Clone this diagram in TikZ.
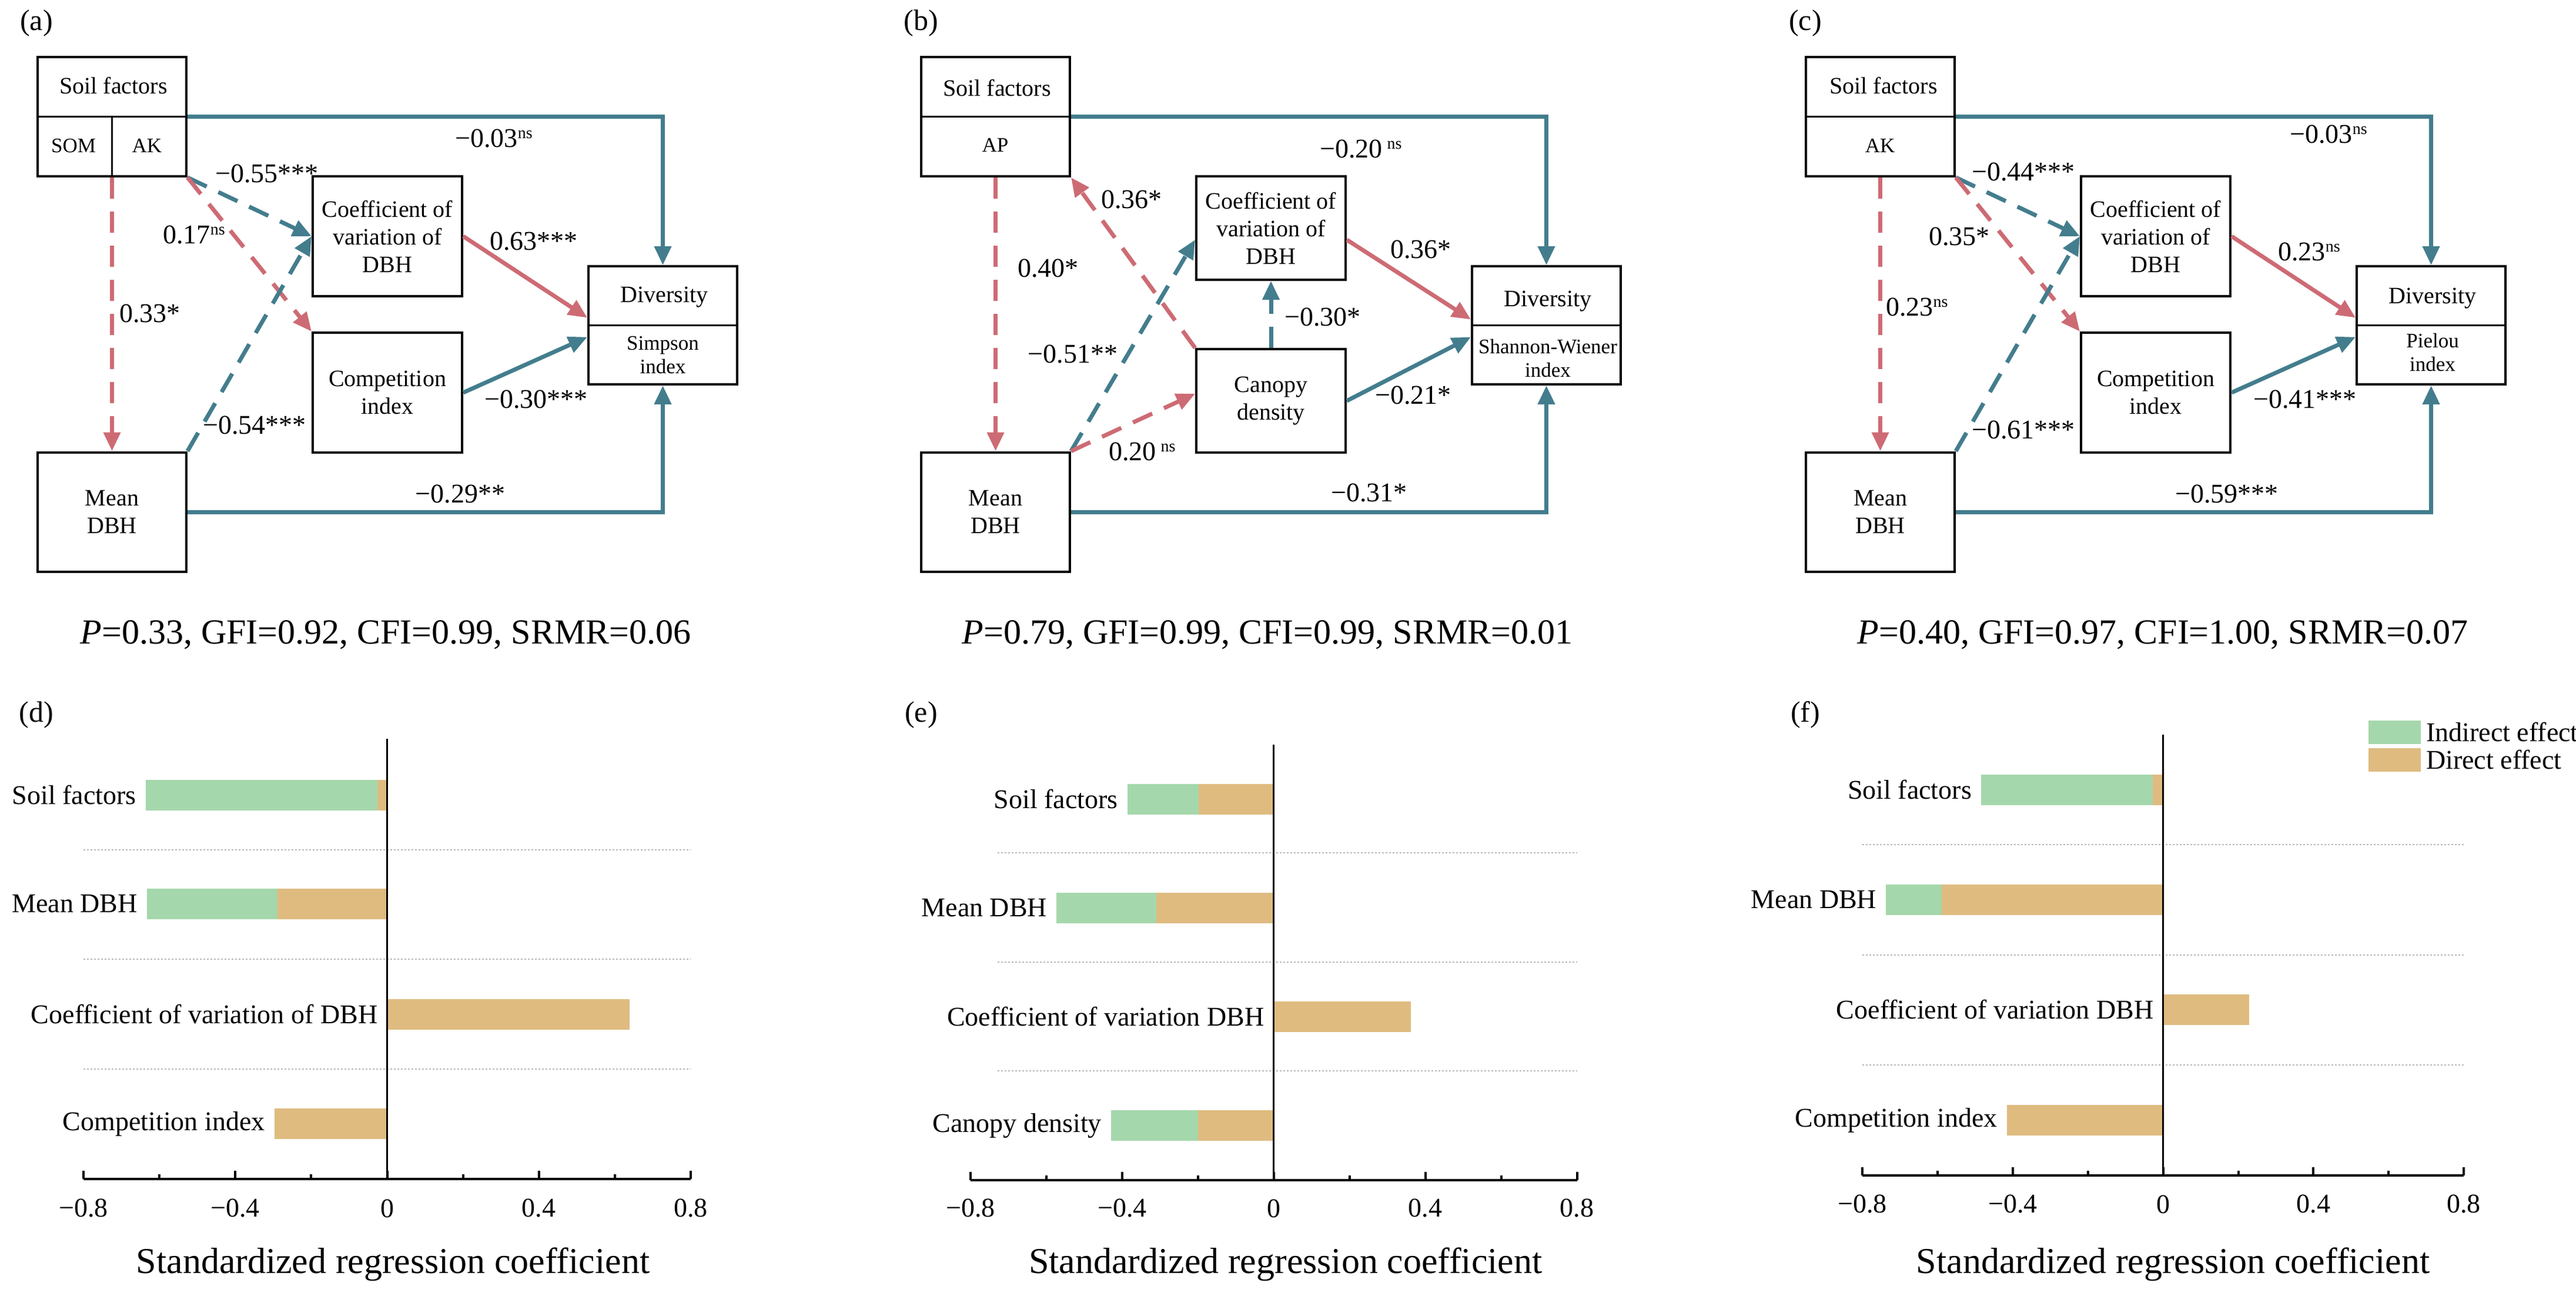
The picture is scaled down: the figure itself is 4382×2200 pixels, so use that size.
\documentclass[tikz,border=0pt]{standalone}
\usepackage{fontspec}
\setmainfont{Liberation Serif}
\usetikzlibrary{arrows.meta,calc}
\definecolor{cred}{HTML}{CD6B74}
\definecolor{cteal}{HTML}{437D8D}
\definecolor{cgreen}{HTML}{A5D7AC}
\definecolor{ctan}{HTML}{DFBB80}
\newcommand\NSx{\raisebox{15pt}{\fontsize{28}{28}\selectfont ns}}
\newcommand\effbar[6]{% name, yc, g, t, e, label
  \fill[cgreen] ({#3*\s},{#2-26}) rectangle ({#4*\s},{#2+26});
  \fill[ctan] ({#4*\s},{#2-26}) rectangle ({#5*\s},{#2+26});
  \node[labl,anchor=east] (#1) at ({min(#3,#4,0)*\s-16},#2) {#6};}
\tikzset{
 box/.style={draw,line width=4pt,minimum width=253pt,minimum height=203pt,inner sep=0pt,
   font=\fontsize{40}{47}\selectfont,align=center},
 btxt/.style={font=\fontsize{40}{47}\selectfont,align=center,inner sep=0},
 stxt/.style={font=\fontsize{35}{40}\selectfont,align=center,inner sep=0},
 coef/.style={font=\fontsize{46}{50}\selectfont,inner sep=0},
 arw/.style={line width=7pt,-{Triangle[length=32pt,width=28pt]}},
 posar/.style={arw,draw=cred}, negar/.style={arw,draw=cteal},
 dsh/.style={dash pattern=on 36pt off 22pt},
 divl/.style={line width=3.5pt},
 plab/.style={font=\fontsize{50}{50}\selectfont,inner sep=0},
 fitt/.style={font=\fontsize{60}{60}\selectfont,inner sep=0},
 labl/.style={font=\fontsize{46}{50}\selectfont,inner sep=0},
 tickl/.style={font=\fontsize{46}{50}\selectfont,inner sep=0},
 xl/.style={font=\fontsize{62}{62}\selectfont,inner sep=0},
 gridl/.style={draw=gray!55,line width=1.5pt,dash pattern=on 3pt off 3pt},
 axl/.style={line width=4pt},
}
\begin{document}
\begin{tikzpicture}[x=1pt,y=-1pt]
\useasboundingbox (0,0) rectangle (4382,2200);
\fill[white] (0,0) rectangle (4382,2200);

% ================= (a)
\begin{scope}
\node[plab] (la) at (62,39) {(a)};
\node[box] (sa) at (190.5,198.5) {};
\draw[divl] (sa.west) -- (sa.east);
\draw[divl] (sa.center) -- (sa.south);
\node[btxt] (sat) at (193,146) {Soil factors};
\node[stxt] (sa1) at (125,248) {SOM};
\node[stxt] (sa2) at (250,248) {AK};
\node[box] (ma) at (190.5,871) {Mean\\DBH};
\node[box,minimum width=254pt,minimum height=204pt] (cva) at (659,402) {Coefficient of\\variation of\\DBH};
\node[box,minimum width=254pt,minimum height=204pt] (coa) at (659,668) {Competition\\index};
\node[box,minimum height=201pt] (da) at (1127.5,553.5) {};
\draw[divl] (da.west) -- (da.east);
\node[btxt] (dat) at (1130,506) {Diversity};
\node[stxt] (das) at (1127.5,604) {Simpson\\index};
\draw[negar] (sa.east) -| (da.north);
\draw[negar] (ma.east) -| (da.south);
\draw[negar,dsh] (sa.south east) -- (cva.west);
\draw[posar,dsh] (sa.south east) -- (coa.north west);
\draw[posar,dsh] (sa.south) -- (ma.north);
\draw[negar,dsh] (ma.north east) -- (cva.west);
\draw[posar] (cva.east) -- ([yshift=13pt]da.west);
\draw[negar] (coa.east) -- ([yshift=-20pt]da.west);
\node[coef] (ca1) at (454,296) {−0.55***};
\node[coef] (ca2) at (330,400) {0.17\NSx};
\node[coef,anchor=west] (ca3) at (203,534) {0.33*};
\node[coef] (ca4) at (433,724) {−0.54***};
\node[coef] (ca5) at (908,411) {0.63***};
\node[coef] (ca6) at (912,680) {−0.30***};
\node[coef] (ca7) at (840,236) {−0.03\NSx};
\node[coef] (ca8) at (783,841) {−0.29**};
\node[fitt] (fa) at (656,1080) {\textit{P}=0.33, GFI=0.92, CFI=0.99, SRMR=0.06};
\end{scope}

% ================= (b)
\begin{scope}[xshift=1503pt]
\node[plab] (lb) at (64,39) {(b)};
\node[box] (sb) at (190.5,198.5) {};
\draw[divl] (sb.west) -- (sb.east);
\node[btxt] (sbt) at (193,150) {Soil factors};
\node[stxt] (sb1) at (190,247) {AP};
\node[box] (mb) at (190.5,871) {Mean\\DBH};
\node[box,minimum width=254pt,minimum height=176pt] (cvb) at (659,388) {Coefficient of\\variation of\\DBH};
\node[box,minimum width=254pt,minimum height=176pt] (cnb) at (659,682) {Canopy\\density};
\node[box,minimum height=201pt] (db) at (1127.5,553.5) {};
\draw[divl] (db.west) -- (db.east);
\node[btxt] (dbt) at (1130,513) {Diversity};
\node[stxt] (dbs) at (1130,610) {Shannon-Wiener\\index};
\draw[negar] (sb.east) -| (db.north);
\draw[negar] (mb.east) -| (db.south);
\draw[posar,dsh] (sb.south) -- (mb.north);
\draw[posar,dsh] (cnb.north west) -- (sb.south east);
\draw[negar,dsh] (mb.north east) -- ([yshift=-20pt]cvb.west);
\draw[posar,dsh] (mb.north east) -- ([yshift=12pt]cnb.west);
\draw[negar,dsh] (cnb.north) -- (cvb.south);
\draw[posar] ([yshift=-20pt]cvb.east) -- ([yshift=10pt]db.west);
\draw[negar] (cnb.east) -- ([yshift=-20pt]db.west);
\node[coef] (cb1) at (422,340) {0.36*};
\node[coef] (cb2) at (322,603) {−0.51**};
\node[coef] (cb3) at (440,769) {0.20\,\NSx};
\node[coef] (cb4) at (280,457) {0.40*};
\node[coef] (cb5) at (914,425) {0.36*};
\node[coef] (cb6) at (901,673) {−0.21*};
\node[coef] (cb7) at (747,540) {−0.30*};
\node[coef] (cb8) at (812,254) {−0.20\,\NSx};
\node[coef] (cb9) at (826,839) {−0.31*};
\node[fitt] (fb) at (653,1080) {\textit{P}=0.79, GFI=0.99, CFI=0.99, SRMR=0.01};
\end{scope}

% ================= (c)
\begin{scope}[xshift=3008pt]
\node[plab] (lc) at (63,39) {(c)};
\node[box] (sc) at (190.5,198.5) {};
\draw[divl] (sc.west) -- (sc.east);
\node[btxt] (sct) at (196,146) {Soil factors};
\node[stxt] (sc1) at (190,248) {AK};
\node[box] (mc) at (190.5,871) {Mean\\DBH};
\node[box,minimum width=254pt,minimum height=204pt] (cvc) at (659,402) {Coefficient of\\variation of\\DBH};
\node[box,minimum width=254pt,minimum height=204pt] (coc) at (659,668) {Competition\\index};
\node[box,minimum height=201pt] (dc) at (1127.5,553.5) {};
\draw[divl] (dc.west) -- (dc.east);
\node[btxt] (dct) at (1130,508) {Diversity};
\node[stxt] (dcs) at (1130,600) {Pielou\\index};
\draw[negar] (sc.east) -| (dc.north);
\draw[negar] (mc.east) -| (dc.south);
\draw[negar,dsh] (sc.south east) -- (cvc.west);
\draw[posar,dsh] (sc.south east) -- (coc.north west);
\draw[posar,dsh] (sc.south) -- (mc.north);
\draw[negar,dsh] (mc.north east) -- (cvc.west);
\draw[posar] (cvc.east) -- ([yshift=13pt]dc.west);
\draw[negar] (coc.east) -- ([yshift=-20pt]dc.west);
\node[coef] (cc1) at (434,293) {−0.44***};
\node[coef] (cc2) at (325,403) {0.35*};
\node[coef,anchor=west] (cc3) at (200,523) {0.23\NSx};
\node[coef] (cc4) at (434,732) {−0.61***};
\node[coef] (cc5) at (920,429) {0.23\NSx};
\node[coef] (cc6) at (913,680) {−0.41***};
\node[coef] (cc7) at (953,229) {−0.03\NSx};
\node[coef] (cc8) at (780,841) {−0.59***};
\node[fitt] (fc) at (671,1080) {\textit{P}=0.40, GFI=0.97, CFI=1.00, SRMR=0.07};
\end{scope}

% ================= (d)
\node[plab] (ld) at (62,1216) {(d)};
\begin{scope}[shift={(658.5,0)}]
\def\s{645.6}
\foreach \g in {1446,1632,1819} \draw[gridl] ({-0.8*\s},\g) -- ({0.8*\s},\g);
\effbar{d1}{1353}{-0.636}{-0.026}{0}{Soil factors}
\effbar{d2}{1538}{-0.633}{-0.289}{0}{Mean DBH}
\effbar{d3}{1726}{0}{0}{0.639}{Coefficient of variation of DBH}
\effbar{d4}{1912}{0}{-0.297}{0}{Competition index}
\draw[line width=3pt] (0,1257) -- (0,2006);
\draw[axl] ({-0.8*\s},2006) -- ({0.8*\s},2006);
\foreach \t/\l in {-0.8/−0.8,-0.4/−0.4,0/0,0.4/0.4,0.8/0.8} {\draw[axl] ({\t*\s},2006) -- ({\t*\s},1992); \node[tickl] at ({\t*\s},2056) {\l};}
\foreach \t in {-0.6,-0.2,0.2,0.6} \draw[axl] ({\t*\s},2006) -- ({\t*\s},1998);
\node[xl] (xd) at (10,2151) {Standardized regression coefficient};
\end{scope}

% ================= (e)
\node[plab] (le) at (1567,1216) {(e)};
\begin{scope}[shift={(2166.7,0)}]
\def\s{644.8}
\foreach \g in {1451,1637,1822} \draw[gridl] ({-0.728*\s},\g) -- ({0.8*\s},\g);
\effbar{e1}{1360}{-0.386}{-0.198}{0}{Soil factors}
\effbar{e2}{1545}{-0.573}{-0.309}{0}{Mean DBH}
\effbar{e3}{1730}{0}{0}{0.362}{Coefficient of variation DBH}
\effbar{e4}{1915}{-0.429}{-0.2}{0}{Canopy density}
\draw[line width=3pt] (0,1267) -- (0,2008);
\draw[axl] ({-0.8*\s},2008) -- ({0.8*\s},2008);
\foreach \t/\l in {-0.8/−0.8,-0.4/−0.4,0/0,0.4/0.4,0.8/0.8} {\draw[axl] ({\t*\s},2008) -- ({\t*\s},1994); \node[tickl] at ({\t*\s},2056) {\l};}
\foreach \t in {-0.6,-0.2,0.2,0.6} \draw[axl] ({\t*\s},2008) -- ({\t*\s},2000);
\node[xl] (xe) at (20,2151) {Standardized regression coefficient};
\end{scope}

% ================= (f)
\node[plab] (lf) at (3071,1216) {(f)};
\begin{scope}[shift={(3679.6,0)}]
\def\s{639.4}
\foreach \g in {1437,1625,1812} \draw[gridl] ({-0.8*\s},\g) -- ({0.8*\s},\g);
\effbar{f1}{1344}{-0.484}{-0.028}{0}{Soil factors}
\effbar{f2}{1531}{-0.737}{-0.589}{0}{Mean DBH}
\effbar{f3}{1718}{0}{0}{0.229}{Coefficient of variation DBH}
\effbar{f4}{1906}{0}{-0.416}{0}{Competition index}
\draw[line width=3pt] (0,1250) -- (0,2000);
\draw[axl] ({-0.8*\s},2000) -- ({0.8*\s},2000);
\foreach \t/\l in {-0.8/−0.8,-0.4/−0.4,0/0,0.4/0.4,0.8/0.8} {\draw[axl] ({\t*\s},2000) -- ({\t*\s},1986); \node[tickl] at ({\t*\s},2049) {\l};}
\foreach \t in {-0.6,-0.2,0.2,0.6} \draw[axl] ({\t*\s},2000) -- ({\t*\s},1992);
\node[xl] (xf) at (17,2151) {Standardized regression coefficient};
\end{scope}
\fill[cgreen] (4029,1226) rectangle (4118,1266);
\fill[ctan] (4029,1273) rectangle (4118,1313);
\node[labl,anchor=west] (lg1) at (4127,1246) {Indirect effect};
\node[labl,anchor=west] (lg2) at (4127,1293) {Direct effect};
\end{tikzpicture}
\end{document}
